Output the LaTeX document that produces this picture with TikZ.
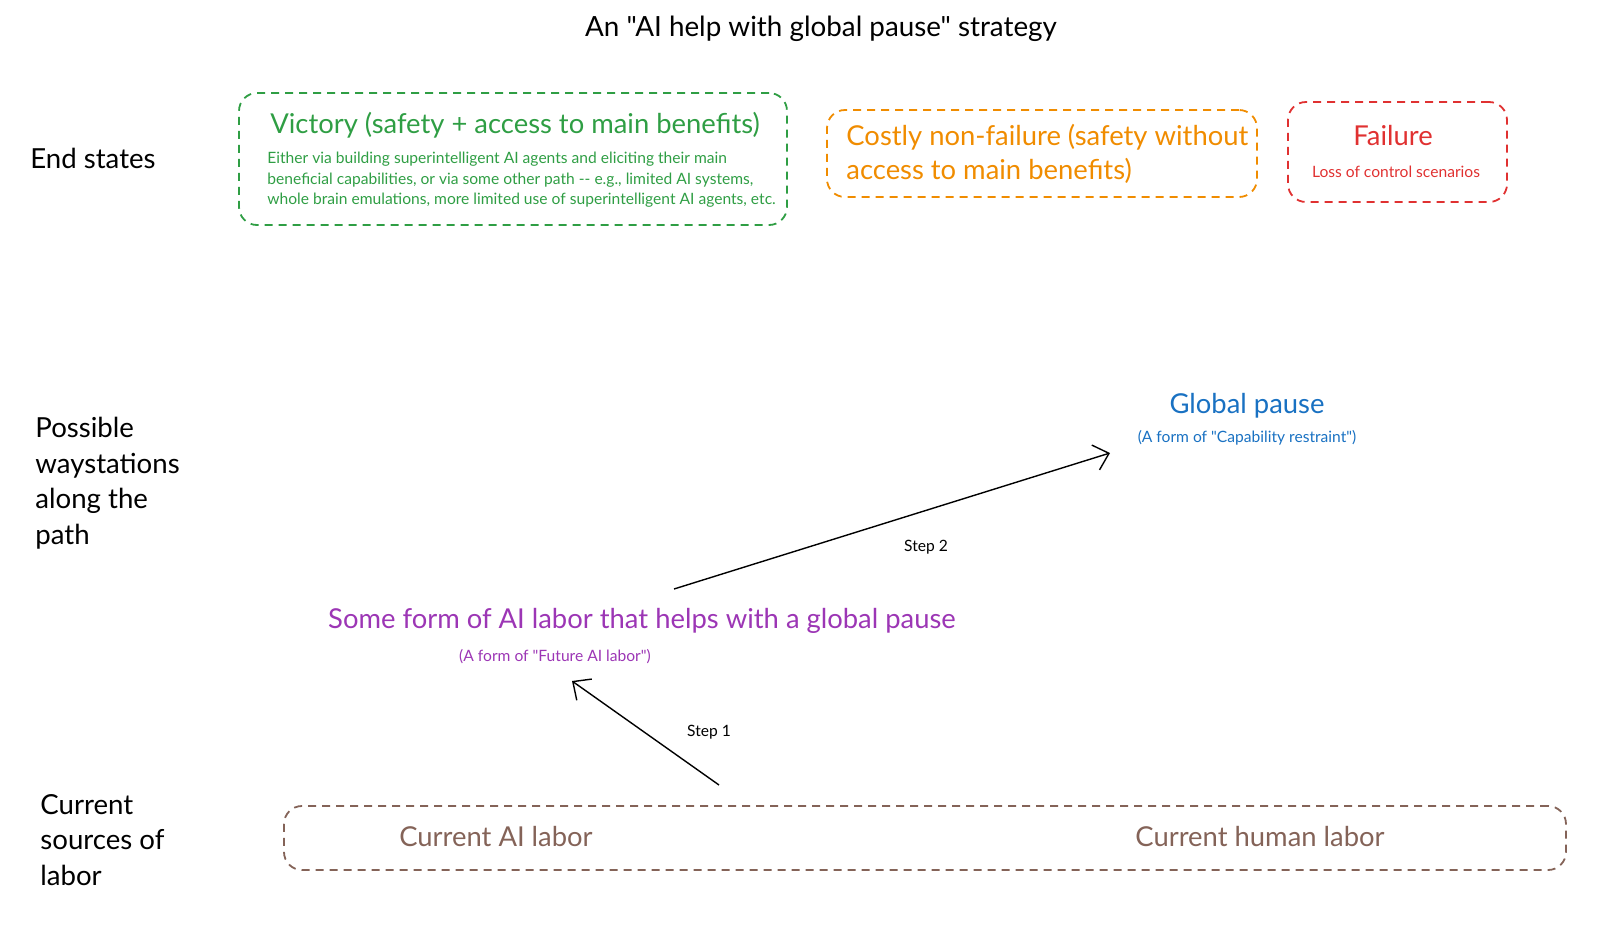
\documentclass[tikz,border=0pt]{standalone}
\usepackage{fontspec}
\setmainfont{Lato}[Ligatures=TeXOff]
\usetikzlibrary{arrows.meta}
\definecolor{cgreen}{HTML}{2F9E44}
\definecolor{corange}{HTML}{F08C00}
\definecolor{cred}{HTML}{E03131}
\definecolor{cblue}{HTML}{1971C2}
\definecolor{cpurple}{HTML}{9C36B5}
\definecolor{cbrown}{HTML}{846358}
\tikzset{
  dbox/.style={draw, dashed, dash pattern=on 4pt off 3pt, line width=0.9pt, rounded corners=9pt, inner sep=0pt},
  side/.style={anchor=west, align=left, inner sep=0pt, font=\fontsize{13.8}{17.75}\selectfont},
  big/.style={font=\fontsize{13.7}{17}\selectfont, inner sep=0pt},
  small/.style={font=\fontsize{7.8}{10.2}\selectfont, inner sep=0pt},
  steparrow/.style={-{Straight Barb[length=7pt,width=13pt]}, line width=0.7pt},
}
\begin{document}
\begin{tikzpicture}[x=0.5pt,y=-0.5pt]
\useasboundingbox (0,0) rectangle (1600,932);
\node[font=\fontsize{13.9}{16}\selectfont, inner sep=0pt] (title) at (821,29) {An "AI help with global pause" strategy};

\node[side] (lend) at (30,158) {End states};
\node[side] (lway) at (35,483) {Possible\\waystations\\along the\\path};
\node[side] (lcur) at (40,840) {Current\\sources of\\labor};

% Victory
\node[dbox, cgreen, minimum width=274pt, minimum height=66pt] (vbox) at (513,159) {};
\node[big, text=cgreen] (vtitle) at (515,125) {Victory (safety + access to main benefits)};
\node[small, text=cgreen, anchor=west, align=left] (vbody) at (267,180) {Either via building superintelligent AI agents and eliciting their main\\beneficial capabilities, or via some other path -- e.g., limited AI systems,\\whole brain emulations, more limited use of superintelligent AI agents, etc.};

% Costly
\node[dbox, corange, minimum width=215pt, minimum height=43.5pt] (cbox) at (1042,153.5) {};
\node[big, text=corange, anchor=west, align=left] (ctext) at (846,154) {Costly non-failure (safety without\\access to main benefits)};

% Failure
\node[dbox, cred, minimum width=109.5pt, minimum height=50pt] (fbox) at (1397.5,152) {};
\node[big, text=cred] (ftitle) at (1393,136) {Failure};
\node[small, text=cred] (fsub) at (1396,172) {Loss of control scenarios};

% Global pause
\node[big, text=cblue] (gp) at (1247,406) {Global pause};
\node[small, text=cblue] (gpsub) at (1247,438) {(A form of "Capability restraint")};

% AI labor
\node[big, text=cpurple] (ail) at (642,621) {Some form of AI labor that helps with a global pause};
\node[small, text=cpurple] (ailsub) at (555,657) {(A form of "Future AI labor")};

% Current labor
\node[dbox, cbrown, minimum width=641pt, minimum height=32pt] (lbox) at (925,838) {};
\node[big, text=cbrown] (cai) at (496,837) {Current AI labor};
\node[big, text=cbrown] (chum) at (1260,837) {Current human labor};

% arrows
\coordinate (s1a) at (719,785);
\coordinate (s1b) at (572,681);
\coordinate (s2a) at (674,589);
\coordinate (s2b) at (1110,453);
\draw[steparrow] (s1a) -- (s1b);
\draw[steparrow] (s2a) -- (s2b);
\node[small] (st1) at (709,732) {Step 1};
\node[small] (st2) at (926,547) {Step 2};
\end{tikzpicture}
\end{document}
